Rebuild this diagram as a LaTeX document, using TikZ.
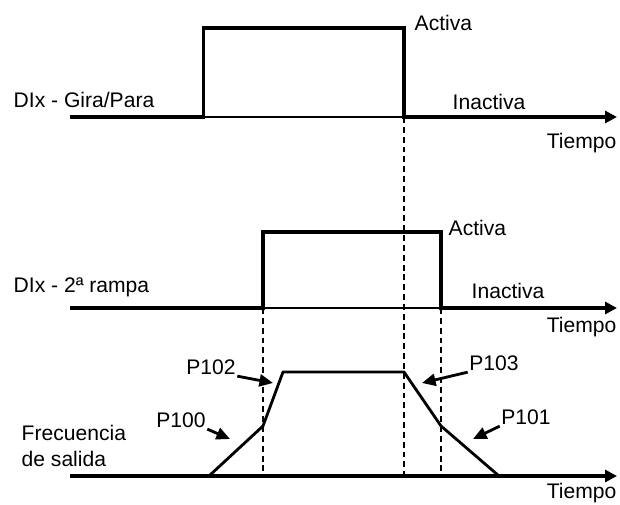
\documentclass[tikz,border=0pt]{standalone}
\usepackage{fontspec}
\setmainfont{Liberation Sans}
\usetikzlibrary{arrows.meta}

\begin{document}
\begin{tikzpicture}[
  lbl/.style={font=\fontsize{15}{18}\selectfont,inner sep=1pt},
  sig/.style={line width=2.6pt,line join=miter,-{Triangle[length=3mm,width=3mm]}},
  thinbase/.style={line width=1.1pt},
  guide/.style={line width=1.1pt,dash pattern=on 4.2pt off 2.8pt},
  ramp/.style={line width=2pt,line join=round},
  pointer/.style={line width=2pt,-{Triangle[length=3.4mm,width=3mm]}}]
\useasboundingbox (0,0) rectangle (15.5,12.625);
\coordinate (a0) at (1.75,9.7);
\coordinate (a1) at (5.09,9.7);
\coordinate (a2) at (10.1,9.7);
\coordinate (a3) at (15.425,9.7);
\coordinate (b0) at (1.75,4.925);
\coordinate (b1) at (6.575,4.925);
\coordinate (b2) at (11.025,4.925);
\coordinate (b3) at (15.425,4.925);
\coordinate (c0) at (1.75,0.725);
\coordinate (c3) at (15.425,0.725);
\coordinate (r0) at (5.225,0.725);
\coordinate (r1) at (6.575,1.975);
\coordinate (r2) at (7.075,3.325);
\coordinate (r3) at (10.1,3.325);
\coordinate (r4) at (11.025,1.975);
\coordinate (r5) at (12.475,0.725);
\draw[guide] (a2) -- (a2 |- c0);
\draw[guide] (b1) -- (b1 |- c0);
\draw[guide] (b2) -- (b2 |- c0);
\draw[thinbase] (a1) -- (a2);
\draw[sig] (a0) -- (a1) |- (10.1,11.925) -- (a2) -- (a3);
\draw[thinbase] (b1) -- (b2);
\draw[sig] (b0) -- (b1) |- (11.025,6.825) -- (b2) -- (b3);
\draw[sig] (c0) -- (c3);
\draw[ramp] (r0) -- (r1) -- (r2) -- (r3) -- (r4) -- (r5);
\node[lbl,anchor=west] (gira) at (0.3,10.125) {DIx - Gira/Para};
\node[lbl,anchor=west] (act1) at (10.325,12.05) {Activa};
\node[lbl,anchor=west] (inact1) at (11.275,10.075) {Inactiva};
\node[lbl,anchor=east] (tiempo1) at (15.45,9.05) {Tiempo};
\node[lbl,anchor=west] (rampa) at (0.3,5.45) {DIx - 2ª rampa};
\node[lbl,anchor=west] (act2) at (11.175,6.925) {Activa};
\node[lbl,anchor=west] (inact2) at (11.75,5.35) {Inactiva};
\node[lbl,anchor=east] (tiempo2) at (15.45,4.45) {Tiempo};
\node[lbl,anchor=west,align=left] (frec) at (0.5,1.475) {Frecuencia\\de salida};
\node[lbl,anchor=east] (tiempo3) at (15.45,0.3) {Tiempo};
\node[lbl] (p102) at (5.275,3.45) {P102};
\node[lbl] (p100) at (4.525,2.125) {P100};
\node[lbl] (p103) at (12.35,3.55) {P103};
\node[lbl] (p101) at (13.15,2.2) {P101};
\coordinate (t102) at (6.825,3.05);
\coordinate (t100) at (5.75,1.65);
\coordinate (t103) at (10.55,3.05);
\coordinate (t101) at (11.825,1.65);
\draw[pointer] (p102.south east) -- (t102);
\draw[pointer] (p100.south east) -- (t100);
\draw[pointer] (p103.south west) -- (t103);
\draw[pointer] (p101.south west) -- (t101);
\end{tikzpicture}
\end{document}
